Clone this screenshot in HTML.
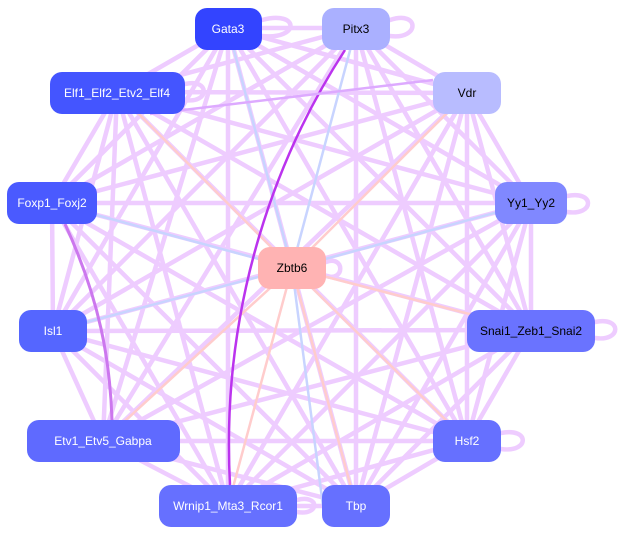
<!DOCTYPE html>
<html><head><meta charset="utf-8"><style>
body{margin:0;background:#fff;width:626px;height:536px;overflow:hidden}
svg{display:block}
text{font-family:"Liberation Sans",Arial,sans-serif;font-size:12px;text-anchor:middle;dominant-baseline:central}
</style></head><body>
<svg width="626" height="536" viewBox="0 0 626 536">
<defs><marker id="a" markerWidth="4" markerHeight="4" refX="3" refY="2" orient="auto"><path d="M0,0 L4,2 L0,4z" fill="#eeccff"/></marker></defs>
<g stroke="#eeccff" stroke-width="4.5" fill="none" stroke-linecap="round">
<line x1="228" y1="28" x2="117" y2="92"/><line x1="228" y1="28" x2="52" y2="203"/><line x1="228" y1="28" x2="53" y2="331"/><line x1="228" y1="28" x2="103" y2="441"/><line x1="228" y1="28" x2="228" y2="506"/><line x1="228" y1="28" x2="356" y2="506"/><line x1="228" y1="28" x2="467" y2="441"/><line x1="228" y1="28" x2="531" y2="330"/><line x1="228" y1="28" x2="531" y2="203"/><line x1="228" y1="28" x2="467" y2="93"/><line x1="228" y1="28" x2="356" y2="28"/>
<line x1="356" y1="28" x2="117" y2="92"/><line x1="356" y1="28" x2="52" y2="203"/><line x1="356" y1="28" x2="53" y2="331"/><line x1="356" y1="28" x2="103" y2="441"/><line x1="356" y1="28" x2="356" y2="506"/><line x1="356" y1="28" x2="467" y2="441"/><line x1="356" y1="28" x2="531" y2="330"/><line x1="356" y1="28" x2="531" y2="203"/><line x1="356" y1="28" x2="467" y2="93"/>
<line x1="467" y1="93" x2="117" y2="92"/><line x1="467" y1="93" x2="52" y2="203"/><line x1="467" y1="93" x2="53" y2="331"/><line x1="467" y1="93" x2="103" y2="441"/><line x1="467" y1="93" x2="228" y2="506"/><line x1="467" y1="93" x2="356" y2="506"/><line x1="467" y1="93" x2="467" y2="441"/><line x1="467" y1="93" x2="531" y2="330"/><line x1="467" y1="93" x2="531" y2="203"/>
<line x1="117" y1="92" x2="52" y2="203"/><line x1="117" y1="92" x2="53" y2="331"/><line x1="117" y1="92" x2="103" y2="441"/><line x1="117" y1="92" x2="228" y2="506"/><line x1="117" y1="92" x2="356" y2="506"/><line x1="117" y1="92" x2="467" y2="441"/><line x1="117" y1="92" x2="531" y2="330"/><line x1="117" y1="92" x2="531" y2="203"/>
<line x1="52" y1="203" x2="53" y2="331"/><line x1="52" y1="203" x2="228" y2="506"/><line x1="52" y1="203" x2="356" y2="506"/><line x1="52" y1="203" x2="467" y2="441"/><line x1="52" y1="203" x2="531" y2="330"/><line x1="52" y1="203" x2="531" y2="203"/>
<line x1="53" y1="331" x2="103" y2="441"/><line x1="53" y1="331" x2="228" y2="506"/><line x1="53" y1="331" x2="356" y2="506"/><line x1="53" y1="331" x2="467" y2="441"/><line x1="53" y1="331" x2="531" y2="330"/><line x1="53" y1="331" x2="531" y2="203"/>
<line x1="103" y1="441" x2="228" y2="506"/><line x1="103" y1="441" x2="356" y2="506"/><line x1="103" y1="441" x2="467" y2="441"/><line x1="103" y1="441" x2="531" y2="330"/><line x1="103" y1="441" x2="531" y2="203"/>
<line x1="228" y1="506" x2="356" y2="506"/><line x1="228" y1="506" x2="467" y2="441"/><line x1="228" y1="506" x2="531" y2="330"/><line x1="228" y1="506" x2="531" y2="203"/>
<line x1="356" y1="506" x2="467" y2="441"/><line x1="356" y1="506" x2="531" y2="330"/><line x1="356" y1="506" x2="531" y2="203"/>
<line x1="467" y1="441" x2="531" y2="330"/><line x1="467" y1="441" x2="531" y2="203"/><line x1="531" y1="330" x2="531" y2="203"/>
<path d="M262 20 C300 10 300 40 262 36"/><path d="M390 20 C420 10 420 40 390 36"/><path d="M567 196 C595 190 595 216 567 212"/><path d="M595 322 C622 316 622 342 595 338"/><path d="M501 433 C530 427 530 453 501 449"/><path d="M297 500 C320 494 320 516 297 512"/><path d="M185 84 C210 78 210 104 185 100"/><path d="M326 262 C345 255 345 282 326 276"/>
</g>
<g stroke-width="2.5" fill="none">
<line x1="292" y1="268" x2="228" y2="28" stroke="#c8d4ff"/><line x1="292" y1="268" x2="356" y2="28" stroke="#c8d4ff"/><line x1="292" y1="268" x2="467" y2="93" stroke="#ffcccc"/><line x1="292" y1="268" x2="117" y2="92" stroke="#ffcccc"/><line x1="292" y1="268" x2="52" y2="203" stroke="#c8d4ff"/><line x1="292" y1="268" x2="531" y2="203" stroke="#c8d4ff"/><line x1="292" y1="268" x2="53" y2="331" stroke="#c8d4ff"/><line x1="292" y1="268" x2="531" y2="330" stroke="#ffcccc"/><line x1="292" y1="268" x2="103" y2="441" stroke="#ffcccc"/><line x1="292" y1="268" x2="467" y2="441" stroke="#ffcccc"/><line x1="292" y1="268" x2="228" y2="506" stroke="#ffcccc"/><line x1="292" y1="268" x2="356" y2="506" stroke="#ffcccc"/><line x1="292" y1="268" x2="323" y2="506" stroke="#c8d4ff"/>
<path d="M230 485 C220 300 280 150 345 50" stroke="#bb33ee"/>
<path d="M65 224 C100 300 110 360 112 420" stroke="#cc77ee" stroke-width="3"/>
<line x1="433" y1="80" x2="150" y2="114" stroke="#ddaaff"/>
</g>
<g font-size="12">
<rect x="195" y="8" width="67" height="42" rx="12" fill="#3344ff"/><text x="228" y="29" fill="#fff">Gata3</text>
<rect x="322" y="8" width="68" height="42" rx="12" fill="#aab0ff"/><text x="356" y="29" fill="#000">Pitx3</text>
<rect x="433" y="72" width="68" height="42" rx="12" fill="#b8bcff"/><text x="467" y="93" fill="#000">Vdr</text>
<rect x="50" y="72" width="135" height="42" rx="12" fill="#4455ff"/><text x="117" y="93" fill="#fff">Elf1_Elf2_Etv2_Elf4</text>
<rect x="7" y="182" width="90" height="42" rx="12" fill="#4a5aff"/><text x="52" y="203" fill="#fff">Foxp1_Foxj2</text>
<rect x="495" y="182" width="72" height="42" rx="12" fill="#8088ff"/><text x="531" y="203" fill="#000">Yy1_Yy2</text>
<rect x="258" y="247" width="68" height="42" rx="12" fill="#ffb3b3"/><text x="292" y="268" fill="#000">Zbtb6</text>
<rect x="19" y="310" width="68" height="42" rx="12" fill="#5566ff"/><text x="53" y="331" fill="#fff">Isl1</text>
<rect x="467" y="310" width="128" height="42" rx="12" fill="#6a73ff"/><text x="531" y="331" fill="#000">Snai1_Zeb1_Snai2</text>
<rect x="27" y="420" width="153" height="42" rx="12" fill="#5f6aff"/><text x="103" y="441" fill="#fff">Etv1_Etv5_Gabpa</text>
<rect x="433" y="420" width="68" height="42" rx="12" fill="#6670ff"/><text x="467" y="441" fill="#fff">Hsf2</text>
<rect x="159" y="485" width="138" height="42" rx="12" fill="#6670ff"/><text x="228" y="506" fill="#fff">Wrnip1_Mta3_Rcor1</text>
<rect x="322" y="485" width="68" height="42" rx="12" fill="#6670ff"/><text x="356" y="506" fill="#fff">Tbp</text>
</g>
</svg>
</body></html>
